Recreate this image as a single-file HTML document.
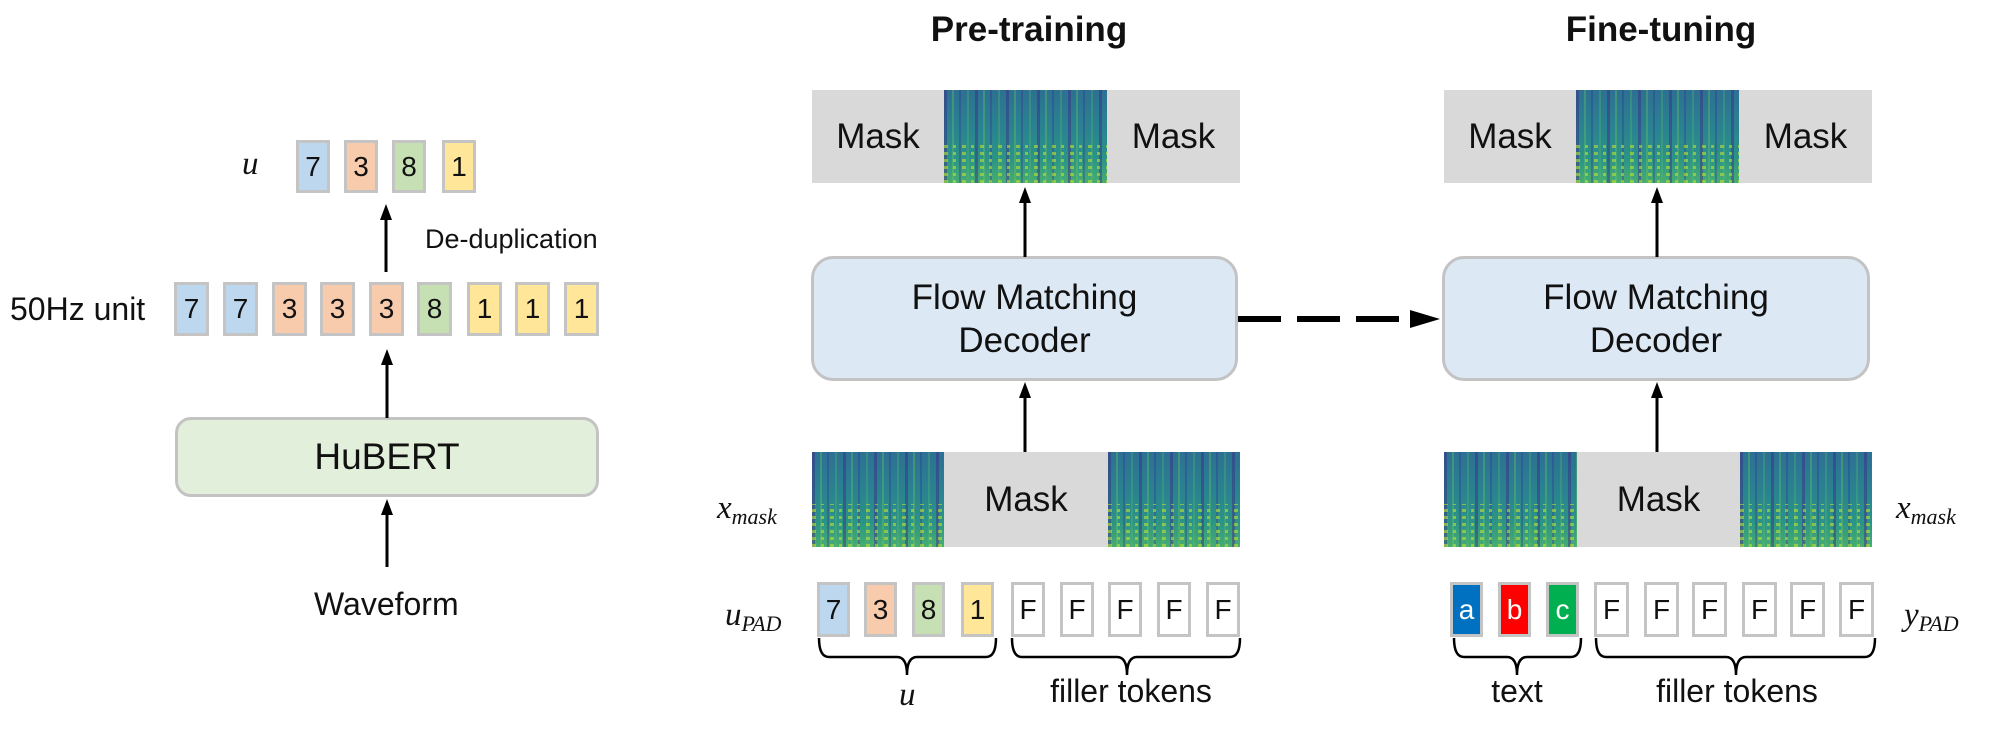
<!DOCTYPE html>
<html><head><meta charset="utf-8"><style>
html,body{margin:0;padding:0;background:#fff;}
#c{position:relative;width:1999px;height:746px;overflow:hidden;font-family:"Liberation Sans",Arial,sans-serif;color:#111;}
.a{position:absolute;box-sizing:border-box;}
.tk{position:absolute;box-sizing:border-box;border:3px solid #c4c4c4;display:flex;align-items:center;justify-content:center;font-size:28px;}
.b{background:#bdd7ee}.o{background:#f8cbad}.g{background:#c6e0b4}.y{background:#ffe699}.w{background:#fff}
.sp{position:absolute;background:
 repeating-linear-gradient(90deg,rgba(60,40,130,.45) 0 3px,transparent 3px 8px,rgba(110,200,90,.35) 8px 10px,transparent 10px 15px,rgba(50,50,140,.35) 15px 17px,transparent 17px 23px,rgba(90,190,100,.3) 23px 25px,transparent 25px 31px),
 linear-gradient(180deg,#2c7093 0%,#2a8490 45%,#2c9486 75%,#49ad72 100%);}
.sp::after{content:"";position:absolute;left:0;right:0;bottom:0;height:45%;background:repeating-linear-gradient(0deg,rgba(190,225,50,.6) 0 3px,transparent 3px 7px);-webkit-mask:repeating-linear-gradient(90deg,#000 0 4px,transparent 4px 9px,#000 9px 12px,transparent 12px 18px);mask:repeating-linear-gradient(90deg,#000 0 4px,transparent 4px 9px,#000 9px 12px,transparent 12px 18px);}
.gr{position:absolute;background:#d9d9d9;display:flex;align-items:center;justify-content:center;font-size:35px;}
.box{position:absolute;box-sizing:border-box;border:3px solid #c3c3c3;border-radius:22px;display:flex;align-items:center;justify-content:center;text-align:center;}
.m{font-family:"Liberation Serif",serif;font-style:italic;font-size:33px;position:absolute;}
.m sub{font-size:22px;vertical-align:-6px;}
.t{position:absolute;white-space:nowrap;}
</style></head><body><div id="c">

<div class="m" style="left:242px;top:146px;">u</div>
<div class="tk b" style="left:296px;top:140px;width:34px;height:53px;">7</div>
<div class="tk o" style="left:344px;top:140px;width:34px;height:53px;">3</div>
<div class="tk g" style="left:392px;top:140px;width:34px;height:53px;">8</div>
<div class="tk y" style="left:442px;top:140px;width:34px;height:53px;">1</div>
<div class="t" style="left:425px;top:224px;font-size:27px;">De-duplication</div>
<div class="t" style="left:10px;top:291px;font-size:32px;">50Hz unit</div>
<div class="tk b" style="left:174px;top:282px;width:35px;height:54px;">7</div>
<div class="tk b" style="left:223px;top:282px;width:35px;height:54px;">7</div>
<div class="tk o" style="left:272px;top:282px;width:35px;height:54px;">3</div>
<div class="tk o" style="left:320px;top:282px;width:35px;height:54px;">3</div>
<div class="tk o" style="left:369px;top:282px;width:35px;height:54px;">3</div>
<div class="tk g" style="left:417px;top:282px;width:35px;height:54px;">8</div>
<div class="tk y" style="left:467px;top:282px;width:35px;height:54px;">1</div>
<div class="tk y" style="left:515px;top:282px;width:35px;height:54px;">1</div>
<div class="tk y" style="left:564px;top:282px;width:35px;height:54px;">1</div>
<div class="box" style="left:175px;top:417px;width:424px;height:80px;background:#e2efda;border-radius:16px;font-size:37px;">HuBERT</div>
<div class="t" style="left:314px;top:586px;font-size:32px;">Waveform</div>

<div class="t" style="left:929px;top:10px;width:200px;text-align:center;font-weight:bold;font-size:35px;">Pre-training</div>
<div class="t" style="left:1561px;top:10px;width:200px;text-align:center;font-weight:bold;font-size:35px;">Fine-tuning</div>

<div class="gr" style="left:812px;top:90px;width:132px;height:93px;">Mask</div>
<div class="sp" style="left:944px;top:90px;width:163px;height:93px;"></div>
<div class="gr" style="left:1107px;top:90px;width:133px;height:93px;">Mask</div>
<div class="gr" style="left:1444px;top:90px;width:132px;height:93px;">Mask</div>
<div class="sp" style="left:1576px;top:90px;width:163px;height:93px;"></div>
<div class="gr" style="left:1739px;top:90px;width:133px;height:93px;">Mask</div>

<div class="box" style="left:811px;top:256px;width:427px;height:125px;background:#dde8f5;font-size:35px;line-height:43px;">Flow Matching<br>Decoder</div>
<div class="box" style="left:1442px;top:256px;width:428px;height:125px;background:#dde8f5;font-size:35px;line-height:43px;">Flow Matching<br>Decoder</div>

<div class="sp" style="left:812px;top:452px;width:132px;height:95px;"></div>
<div class="gr" style="left:944px;top:452px;width:164px;height:95px;">Mask</div>
<div class="sp" style="left:1108px;top:452px;width:132px;height:95px;"></div>
<div class="sp" style="left:1444px;top:452px;width:133px;height:95px;"></div>
<div class="gr" style="left:1577px;top:452px;width:163px;height:95px;">Mask</div>
<div class="sp" style="left:1740px;top:452px;width:132px;height:95px;"></div>

<div class="m" style="left:717px;top:490px;">x<sub>mask</sub></div>
<div class="m" style="left:1896px;top:490px;">x<sub>mask</sub></div>
<div class="m" style="left:725px;top:597px;">u<sub>PAD</sub></div>
<div class="m" style="left:1904px;top:597px;">y<sub>PAD</sub></div>

<div class="tk b" style="left:817px;top:582px;width:33px;height:55px;">7</div>
<div class="tk o" style="left:864px;top:582px;width:33px;height:55px;">3</div>
<div class="tk g" style="left:912px;top:582px;width:33px;height:55px;">8</div>
<div class="tk y" style="left:961px;top:582px;width:33px;height:55px;">1</div>
<div class="tk w" style="left:1011px;top:582px;width:34px;height:55px;">F</div>
<div class="tk w" style="left:1060px;top:582px;width:34px;height:55px;">F</div>
<div class="tk w" style="left:1108px;top:582px;width:34px;height:55px;">F</div>
<div class="tk w" style="left:1157px;top:582px;width:34px;height:55px;">F</div>
<div class="tk w" style="left:1206px;top:582px;width:34px;height:55px;">F</div>
<div class="tk" style="left:1450px;top:582px;width:33px;height:55px;background:#0070c0;color:#fff;">a</div>
<div class="tk" style="left:1498px;top:582px;width:33px;height:55px;background:#ff0000;color:#fff;">b</div>
<div class="tk" style="left:1546px;top:582px;width:33px;height:55px;background:#00b050;color:#fff;">c</div>
<div class="tk w" style="left:1594px;top:582px;width:35px;height:55px;">F</div>
<div class="tk w" style="left:1644px;top:582px;width:35px;height:55px;">F</div>
<div class="tk w" style="left:1692px;top:582px;width:35px;height:55px;">F</div>
<div class="tk w" style="left:1742px;top:582px;width:35px;height:55px;">F</div>
<div class="tk w" style="left:1790px;top:582px;width:35px;height:55px;">F</div>
<div class="tk w" style="left:1839px;top:582px;width:35px;height:55px;">F</div>

<div class="m" style="left:899px;top:677px;">u</div>
<div class="t" style="left:1031px;top:673px;width:200px;text-align:center;font-size:32px;">filler tokens</div>
<div class="t" style="left:1467px;top:673px;width:100px;text-align:center;font-size:32px;">text</div>
<div class="t" style="left:1637px;top:673px;width:200px;text-align:center;font-size:32px;">filler tokens</div>

<svg class="a" style="left:0;top:0" width="1999" height="746" viewBox="0 0 1999 746">
<g stroke="#000" stroke-width="3" fill="none">
<line x1="386" y1="272" x2="386" y2="218"/>
<line x1="387" y1="418" x2="387" y2="363"/>
<line x1="387" y1="567" x2="387" y2="513"/>
<line x1="1025" y1="257" x2="1025" y2="201"/>
<line x1="1025" y1="452" x2="1025" y2="396"/>
<line x1="1657" y1="257" x2="1657" y2="201"/>
<line x1="1657" y1="452" x2="1657" y2="396"/>
<line x1="1238" y1="319" x2="1412" y2="319" stroke-width="6" stroke-dasharray="43 16"/>
</g>
<g fill="#000">
<polygon points="380,220 386,204 392,220"/>
<polygon points="381,365 387,349 393,365"/>
<polygon points="381,515 387,499 393,515"/>
<polygon points="1019,203 1025,187 1031,203"/>
<polygon points="1019,398 1025,382 1031,398"/>
<polygon points="1651,203 1657,187 1663,203"/>
<polygon points="1651,398 1657,382 1663,398"/>
<polygon points="1410,310 1440,319 1410,328"/>
</g>
<g stroke="#000" stroke-width="2.5" fill="none">
<path d="M819 638 Q819 657 829 657 L897 657 Q907 657 907 675 Q907 657 917 657 L986 657 Q996 657 996 638"/>
<path d="M1012 638 Q1012 657 1022 657 L1117 657 Q1127 657 1127 675 Q1127 657 1137 657 L1230 657 Q1240 657 1240 638"/>
<path d="M1454 638 Q1454 657 1464 657 L1507 657 Q1517 657 1517 675 Q1517 657 1527 657 L1571 657 Q1581 657 1581 638"/>
<path d="M1596 638 Q1596 657 1606 657 L1726 657 Q1736 657 1736 675 Q1736 657 1746 657 L1865 657 Q1875 657 1875 638"/>
</g>
</svg>
</div></body></html>
